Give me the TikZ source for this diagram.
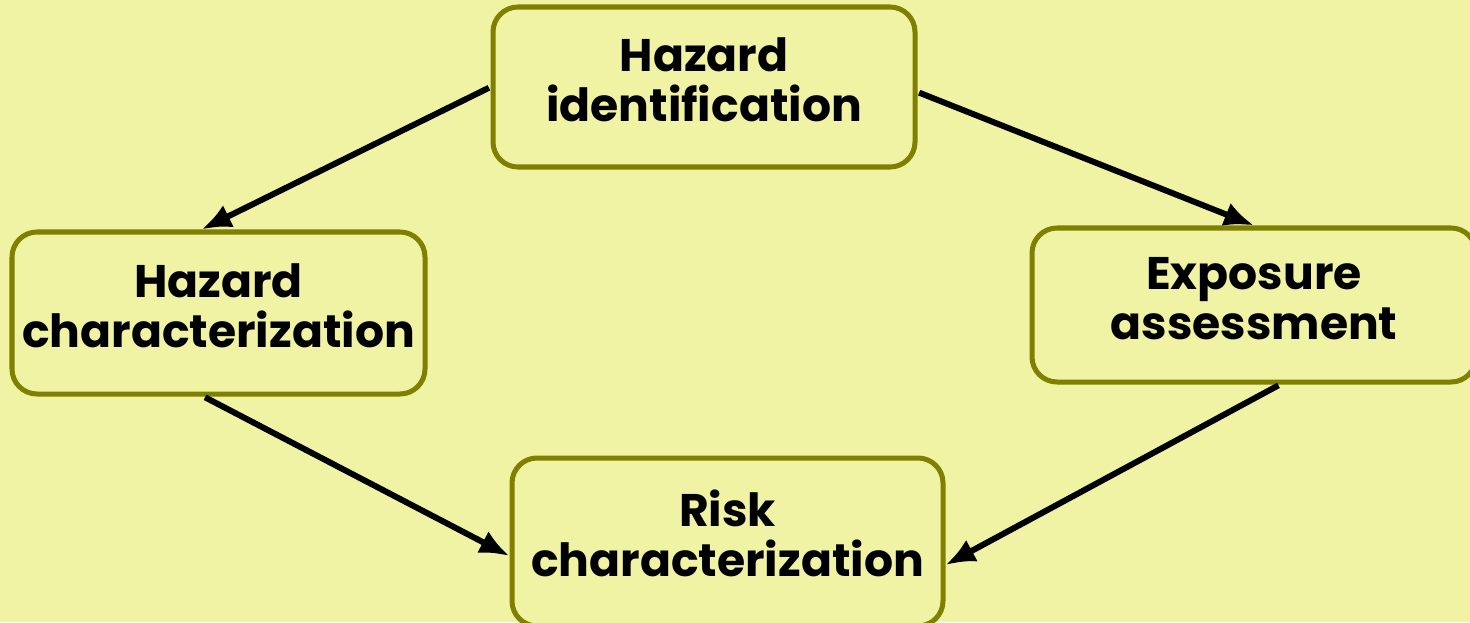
\documentclass[tikz,border=0pt]{standalone}
\usepackage{fontspec}
\setmainfont{Poppins}
\usetikzlibrary{arrows.meta}
\definecolor{bgyellow}{HTML}{F0F2A4}
\definecolor{olive}{HTML}{808000}
\begin{document}
\begin{tikzpicture}[x=0.02cm,y=-0.02cm,
  box/.style={draw=olive, line width=2.85pt, rounded corners=0.5cm, fill=bgyellow,
    align=center, inner sep=0pt, text height=39.8pt, text depth=0pt,
    font=\fontsize{26}{29}\selectfont\bfseries},
  conn/.style={line width=3.4pt, -{Latex[length=17pt,width=14pt]}, shorten <=1pt}]
\fill[bgyellow] (0,0) rectangle (1470,622);
\useasboundingbox (0,0) rectangle (1470,622);
\node[box, minimum width=0.02cm*422, minimum height=0.02cm*160] (hi) at (704,87) {Hazard\\identification};
\node[box, minimum width=0.02cm*413, minimum height=0.02cm*162] (hc) at (218.5,313) {Hazard\\characterization};
\node[box, minimum width=0.02cm*444, minimum height=0.02cm*154] (ea) at (1254,305) {Exposure\\assessment};
\node[box, minimum width=0.02cm*431, minimum height=0.02cm*168] (rc) at (727.5,542) {Risk\\characterization};
\draw[conn] (hi.west) -- ([xshift=-0.34cm]hc.north);
\draw[conn] ([yshift=-0.1cm]hi.east) -- (ea.north);
\draw[conn] ([xshift=-0.3cm]hc.south) -- ([yshift=-0.28cm]rc.west);
\draw[conn] ([xshift=0.52cm]ea.south) -- ([yshift=-0.46cm]rc.east);
\end{tikzpicture}
\end{document}
